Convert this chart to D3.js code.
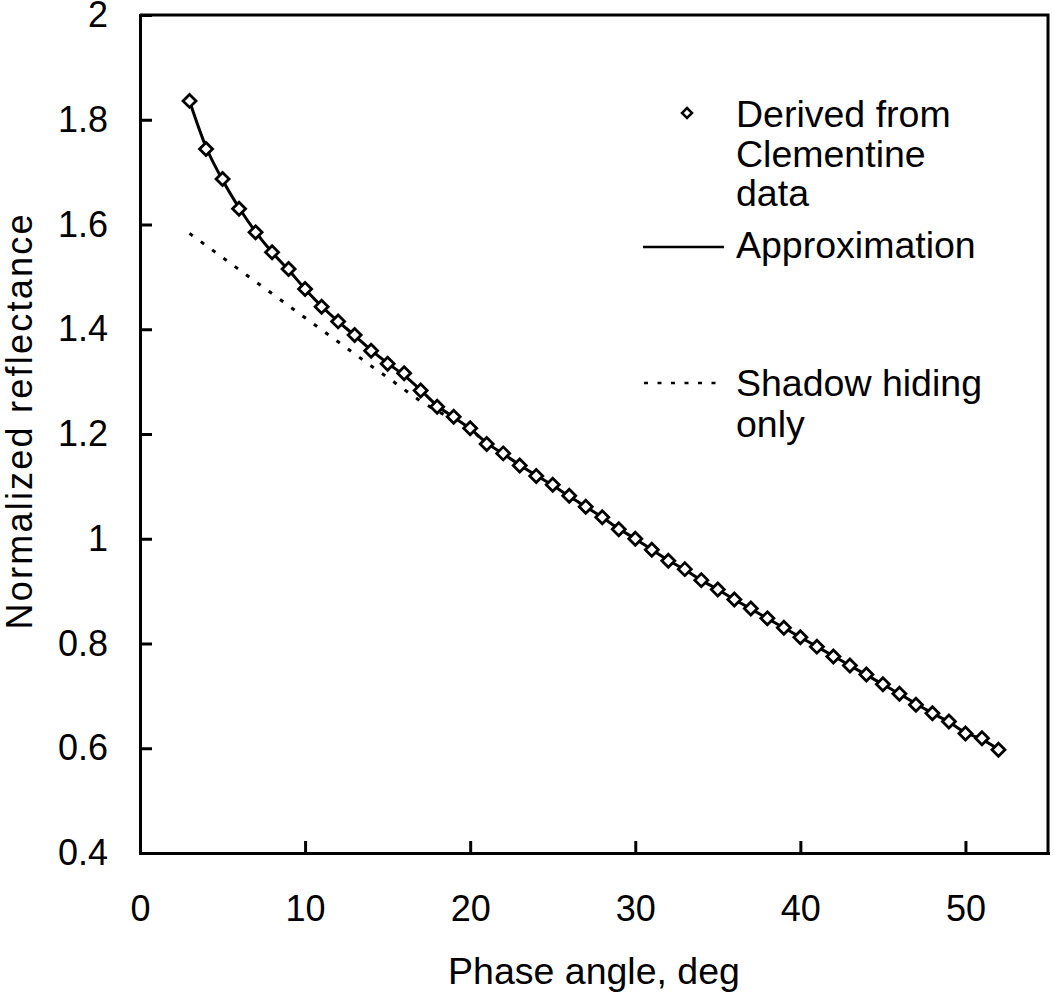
<!DOCTYPE html>
<html>
<head>
<meta charset="utf-8">
<script src="https://cdn.jsdelivr.net/npm/d3@7"></script>
<style>
  body { margin: 0; background: #fff; }
  text { font-family: "Liberation Sans", Arial, Helvetica, sans-serif; fill: #000; }
</style>
</head>
<body>
<div id="container"></div>
<script>
/* CONSTANTS AND GLOBALS */
const width = 1054,
  height = 994,
  margin = { top: 15, right: 6, bottom: 141, left: 140 };

// phase angle, deg (one diamond per degree)
const phaseAngles = [3, 4, 5, 6, 7, 8, 9, 10, 11, 12, 13, 14, 15, 16, 17, 18, 19, 20, 21, 22, 23, 24, 25, 26, 27,
  28, 29, 30, 31, 32, 33, 34, 35, 36, 37, 38, 39, 40, 41, 42, 43, 44, 45, 46, 47, 48, 49, 50, 51, 52];

// normalized reflectance derived from Clementine data
const derived = [1.836, 1.744, 1.687, 1.630, 1.585, 1.547, 1.515, 1.477, 1.443, 1.415, 1.389, 1.359, 1.334, 1.316, 1.283,
  1.252, 1.233, 1.211, 1.181, 1.163, 1.140, 1.120, 1.103, 1.082, 1.061, 1.041, 1.018, 1.000, 0.979, 0.958,
  0.942, 0.921, 0.903, 0.884, 0.867, 0.848, 0.830, 0.812, 0.794, 0.775, 0.758, 0.741, 0.722, 0.704, 0.683,
  0.667, 0.651, 0.628, 0.619, 0.597];

// approximation curve (follows the diamonds)
const approximation = [1.836, 1.748, 1.685, 1.632, 1.586, 1.547, 1.513, 1.477, 1.444, 1.415, 1.388, 1.360, 1.335, 1.312, 1.284,
  1.254, 1.232, 1.210, 1.183, 1.162, 1.141, 1.121, 1.102, 1.081, 1.061, 1.041, 1.019, 1.000, 0.979, 0.959,
  0.941, 0.921, 0.903, 0.884, 0.866, 0.848, 0.830, 0.812, 0.794, 0.776, 0.758, 0.740, 0.722, 0.704, 0.685,
  0.667, 0.650, 0.630, 0.617, 0.598];

// shadow hiding only (dotted)
const shadowAngles = [3, 4, 5, 6, 7, 8, 9, 10, 11, 12, 13, 14, 15, 16, 17, 18, 19, 20, 21, 22];
const shadowOnly = [1.583, 1.560, 1.537, 1.514, 1.491, 1.468, 1.445, 1.422, 1.399, 1.376, 1.353, 1.330, 1.308, 1.285, 1.263,
  1.244, 1.227, 1.209, 1.182, 1.162];

const xTicks = [0, 10, 20, 30, 40, 50];
const yTicks = [0.4, 0.6, 0.8, 1, 1.2, 1.4, 1.6, 1.8, 2];

const legendLabels = {
  derived: ["Derived from", "Clementine", "data"],
  approx: ["Approximation"],
  shadow: ["Shadow hiding", "only"]
};

/* SCALES AND AXES */
const xScale = d3.scaleLinear()
  .domain([0, 55])
  .range([margin.left, width - margin.right]);

const yScale = d3.scaleLinear()
  .domain([0.4, 2])
  .range([height - margin.bottom, margin.top]);

const svg = d3.select("#container")
  .append("svg")
  .attr("width", width)
  .attr("height", height);

const xAxis = d3.axisBottom(xScale)
  .tickValues(xTicks)
  .tickSizeInner(-12)
  .tickSizeOuter(0)
  .tickPadding(42)
  .tickFormat(d3.format("d"));

const yAxis = d3.axisLeft(yScale)
  .tickValues(yTicks)
  .tickSizeInner(-12)
  .tickSizeOuter(0)
  .tickPadding(32)
  .tickFormat(d => String(+d.toFixed(1)));

// frame (top and right sides)
svg.append("path")
  .attr("d", `M${xScale(0)},${yScale(2)} H${xScale(55)} V${yScale(0.4)}`)
  .attr("fill", "none")
  .attr("stroke", "black")
  .attr("stroke-width", 3);

const xAxisGroup = svg.append("g")
  .attr("class", "xAxis")
  .attr("transform", `translate(0, ${yScale(0.4)})`)
  .call(xAxis);

const yAxisGroup = svg.append("g")
  .attr("class", "yAxis")
  .attr("transform", `translate(${xScale(0)}, 0)`)
  .call(yAxis);

[xAxisGroup, yAxisGroup].forEach(g => {
  g.select(".domain").attr("stroke-width", 3).attr("stroke-linecap", "square");
  g.selectAll(".tick line").attr("stroke-width", 3);
  g.selectAll(".tick text").attr("font-size", 36).attr("font-family", null);
});

svg.append("text")
  .attr("class", "xLabel")
  .attr("x", 594)
  .attr("y", 984)
  .attr("text-anchor", "middle")
  .attr("font-size", 37.5)
  .text("Phase angle, deg");

svg.append("text")
  .attr("class", "yLabel")
  .attr("transform", `translate(${32}, ${422}) rotate(-90)`)
  .attr("text-anchor", "middle")
  .attr("font-size", 36)
  .attr("textLength", 415)
  .attr("lengthAdjust", "spacing")
  .text("Normalized reflectance");

/* LINES */
const lineGen = d3.line()
  .x(d => xScale(d[0]))
  .y(d => yScale(d[1]))
  .curve(d3.curveMonotoneX);

svg.append("path")
  .datum(d3.zip(shadowAngles, shadowOnly))
  .attr("class", "shadow")
  .attr("d", lineGen)
  .attr("fill", "none")
  .attr("stroke", "black")
  .attr("stroke-width", 3)
  .attr("stroke-dasharray", "4,10");

svg.append("path")
  .datum(d3.zip(phaseAngles, approximation))
  .attr("class", "approx")
  .attr("d", lineGen)
  .attr("fill", "none")
  .attr("stroke", "black")
  .attr("stroke-width", 3);

const diamond = "M0,-6.5L6.5,0L0,6.5L-6.5,0Z";

svg.append("g")
  .selectAll("path")
  .data(d3.zip(phaseAngles, derived))
  .join("path")
  .attr("transform", d => `translate(${xScale(d[0])}, ${yScale(d[1])})`)
  .attr("d", diamond)
  .attr("fill", "white")
  .attr("stroke", "black")
  .attr("stroke-width", 2.8);

/* LEGEND */
const legend = svg.append("g").attr("class", "legend");
const textX = 736;

legend.append("path")
  .attr("transform", `translate(${687}, ${113})`)
  .attr("d", "M0,-5L5,0L0,5L-5,0Z")
  .attr("fill", "white")
  .attr("stroke", "black")
  .attr("stroke-width", 2.5);

legend.selectAll(".derivedText")
  .data(legendLabels.derived)
  .join("text")
  .attr("class", "derivedText")
  .attr("x", textX)
  .attr("y", (d, i) => 127 + i * 39.5)
  .attr("font-size", 37.5)
  .text(d => d);

legend.append("line")
  .attr("x1", 643).attr("x2", 724)
  .attr("y1", 247).attr("y2", 247)
  .attr("stroke", "black")
  .attr("stroke-width", 2.5);

legend.append("text")
  .attr("x", textX)
  .attr("y", 258)
  .attr("font-size", 37.5)
  .text(legendLabels.approx[0]);

legend.append("line")
  .attr("x1", 644).attr("x2", 724)
  .attr("y1", 383).attr("y2", 383)
  .attr("stroke", "black")
  .attr("stroke-width", 2.5)
  .attr("stroke-dasharray", "4,9.5");

legend.selectAll(".shadowText")
  .data(legendLabels.shadow)
  .join("text")
  .attr("class", "shadowText")
  .attr("x", textX)
  .attr("y", (d, i) => 396 + i * 41)
  .attr("font-size", 37.5)
  .text(d => d);
</script>
</body>
</html>
